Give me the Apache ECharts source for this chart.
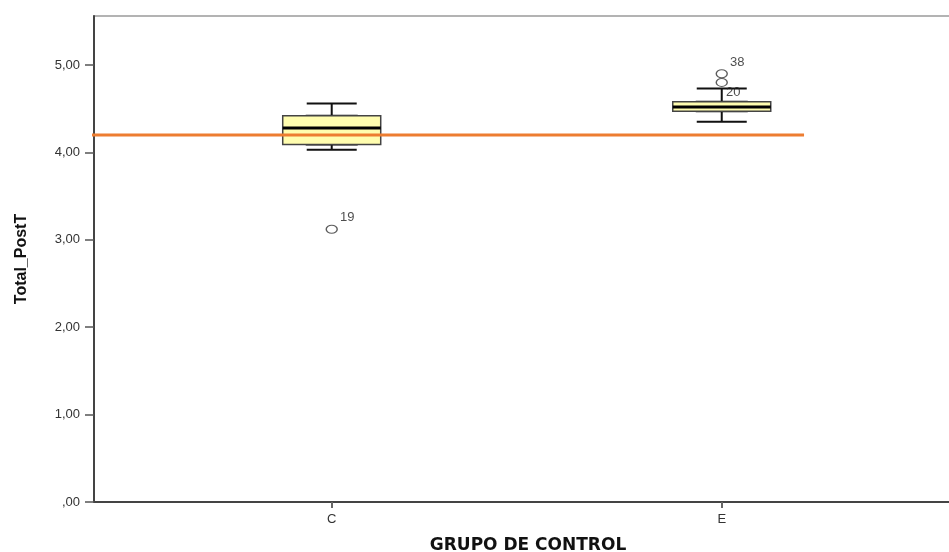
<!DOCTYPE html>
<html>
<head>
<meta charset="utf-8">
<script src="https://cdn.jsdelivr.net/npm/echarts@6/dist/echarts.min.js"></script>
<style>
  html, body { margin: 0; padding: 0; background: #fff; }
  #chart { width: 949px; height: 552px; }
</style>
</head>
<body>
<div id="chart"></div>
<script>
// grupos y posicion en el eje
var groups = ['C', 'E'];
var groupPos = [1, 2];
// resumen de cajas: min, Q1, mediana, Q3, max
var whiskerLow = [4.03, 4.35];
var boxQ1 = [4.09, 4.47];
var boxMedian = [4.28, 4.52];
var boxQ3 = [4.42, 4.58];
var whiskerHigh = [4.56, 4.73];
// atipicos
var outlierGroup = [1, 2, 2];
var outlierValue = [3.12, 4.90, 4.80];
var outlierCase = ['19', '38', '20'];
// linea de referencia
var refLineX = [0.37, 2.211];
var refLineY = 4.20;
var yTicks = [0, 1, 2, 3, 4, 5];

var myChart = echarts.init(document.getElementById('chart'));

var whiskerData = groupPos.map(function (x, i) {
  return [x, whiskerLow[i], boxQ1[i], boxMedian[i], boxQ3[i], whiskerHigh[i]];
});
var boxData = groupPos.map(function (x, i) {
  return [x, boxQ1[i], boxQ1[i], boxMedian[i], boxQ3[i], boxQ3[i]];
});
var medianData = groupPos.map(function (x, i) {
  var m = boxMedian[i];
  return [x, m, m, m, m, m];
});
// desplazamiento de etiquetas de los casos
var labelShift = { '19': [0, -12], '38': [0, -11], '20': [-4, 10] };
var outlierData = outlierGroup.map(function (x, i) {
  return {
    value: [x, outlierValue[i]],
    name: outlierCase[i],
    label: { offset: labelShift[outlierCase[i]] }
  };
});

var X_MIN = 0.3905, X_MAX = 2.616;
// ejes x ocultos para que las cajas no se desplacen entre series
var hiddenX = {
  type: 'value', min: X_MIN, max: X_MAX, show: false, splitLine: { show: false }
};

var option = {
  animation: false,
  grid: {
    left: 94,
    top: 16,
    right: -13,
    bottom: 50,
    outerBoundsMode: 'none',
    show: true,
    borderColor: '#9a9a9a',
    borderWidth: 1.5
  },
  xAxis: [{
    type: 'value',
    min: X_MIN,
    max: X_MAX,
    name: 'GRUPO DE CONTROL',
    nameLocation: 'middle',
    nameGap: 35,
    nameTextStyle: {
      fontFamily: 'DejaVu Sans',
      fontWeight: 'bold',
      fontSize: 17,
      color: '#111'
    },
    splitLine: { show: false },
    axisLine: { lineStyle: { color: '#444', width: 2 } },
    axisTick: {
      customValues: groupPos,
      length: 6,
      lineStyle: { color: '#666', width: 2 }
    },
    axisLabel: {
      customValues: groupPos,
      margin: 11,
      fontFamily: 'Liberation Sans',
      fontSize: 13,
      color: '#333',
      formatter: function (v) {
        return groups[groupPos.indexOf(v)] || '';
      }
    }
  }, hiddenX, hiddenX],
  yAxis: {
    type: 'value',
    min: 0,
    max: 5.56,
    interval: 1,
    name: 'Total_PostT',
    nameLocation: 'middle',
    nameGap: 64,
    nameTextStyle: {
      fontFamily: 'Liberation Sans',
      fontWeight: 'bold',
      fontSize: 16,
      color: '#111'
    },
    splitLine: { show: false },
    axisLine: { show: true, lineStyle: { color: '#444', width: 2 } },
    axisTick: {
      customValues: yTicks,
      length: 9,
      lineStyle: { color: '#555', width: 1.5 }
    },
    axisLabel: {
      customValues: yTicks,
      margin: 14,
      fontFamily: 'Liberation Sans',
      fontSize: 13,
      color: '#333',
      formatter: function (v) {
        return v === 0 ? ',00' : v.toFixed(2).replace('.', ',');
      }
    }
  },
  series: [
    {
      name: 'bigotes',
      type: 'boxplot',
      xAxisIndex: 0,
      z: 2,
      boxWidth: [50, 50],
      data: whiskerData,
      itemStyle: { color: 'rgba(0,0,0,0)', borderColor: '#111', borderWidth: 2 }
    },
    {
      name: 'caja',
      type: 'boxplot',
      xAxisIndex: 1,
      z: 3,
      boxWidth: [98, 98],
      data: boxData,
      itemStyle: { color: '#FFFDAF', borderColor: '#444', borderWidth: 1.5 }
    },
    {
      name: 'mediana',
      type: 'boxplot',
      xAxisIndex: 2,
      z: 4,
      boxWidth: [98, 98],
      data: medianData,
      itemStyle: { color: 'rgba(0,0,0,0)', borderColor: '#000', borderWidth: 3 }
    },
    {
      name: 'atipicos',
      type: 'scatter',
      z: 4,
      symbol: 'circle',
      symbolSize: [11, 8],
      data: outlierData,
      itemStyle: { color: '#fff', borderColor: '#333', borderWidth: 1.2 },
      label: {
        show: true,
        position: 'right',
        distance: 2,
        fontFamily: 'Liberation Sans',
        fontSize: 13,
        color: '#222',
        formatter: function (p) { return p.name; }
      }
    },
    {
      name: 'referencia',
      type: 'line',
      z: 6,
      clip: false,
      showSymbol: false,
      symbol: 'none',
      data: [[refLineX[0], refLineY], [refLineX[1], refLineY]],
      lineStyle: { color: '#ED7D31', width: 3 }
    }
  ]
};

myChart.setOption(option);
window.addEventListener('resize', function () {
  myChart.resize();
});
</script>
</body>
</html>
